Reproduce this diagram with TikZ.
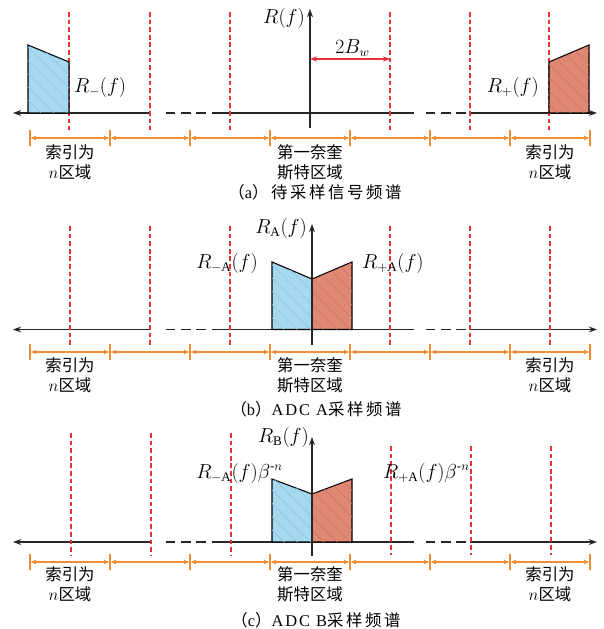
\documentclass[tikz,border=0pt]{standalone}
\usepackage{amsmath}
\usepackage{fontspec}
\setmainfont{Liberation Serif}
\newfontfamily\cjk{Noto Sans CJK SC}
\newfontfamily\capfont[LetterSpace=12]{Liberation Serif}
\newfontfamily\cjkcap[LetterSpace=16]{Noto Sans CJK SC}
\usetikzlibrary{arrows.meta, patterns.meta, calc}

\definecolor{zoneorange}{RGB}{240,142,52}
\definecolor{borderred}{RGB}{236,48,58}
\definecolor{bandblue}{RGB}{166,216,239}
\definecolor{hatchblue}{RGB}{138,198,228}
\definecolor{bandred}{RGB}{225,136,116}
\definecolor{hatchred}{RGB}{206,116,98}

\begin{document}
\begin{tikzpicture}[x=0.03cm, y=-0.03cm]
			% Define style
			\tikzset{
				axis/.style={draw=black!85, line width=0.9pt},
				gapline/.style={axis, dash pattern=on 8pt off 5pt},
				border/.style={draw=borderred, line width=0.9pt, dash pattern=on 4pt off 2.5pt},
				span/.style={draw=zoneorange, line width=0.9pt, {Latex[length=5pt,width=4pt]}-{Latex[length=5pt,width=4pt]}},
				bar/.style={draw=zoneorange, line width=0.9pt},
				zone/.style={font=\cjk\fontsize{14}{17}\selectfont, align=center, inner sep=0pt},
				caption/.style={font=\capfont\fontsize{14}{17}\selectfont, inner sep=0pt},
				lbl/.style={font=\fontsize{16}{18}\selectfont, inner sep=0pt},
				blueband/.style={draw=black, line width=0.9pt, fill=bandblue, postaction={pattern={Lines[angle=-45,distance=8pt,line width=0.5pt]}, pattern color=hatchblue}},
				redband/.style={draw=black, line width=0.9pt, fill=bandred, postaction={pattern={Lines[angle=-45,distance=8pt,line width=0.5pt]}, pattern color=hatchred}}
			}
			\useasboundingbox (0,0) rectangle (603,629);
			
			% Define frequency axes, zone borders and zone spans
			\foreach \p/\ya/\yo/\yz in {a/113/138/162, b/329.5/352/375, c/542/562/584} {
				\draw[axis, -{Stealth[length=7pt,width=5pt]}] (150,\ya) -- (13,\ya);
				\draw[gapline] (166,\ya) -- (215,\ya);
				\draw[axis] (215,\ya) -- (414,\ya);
				\draw[gapline] (426,\ya) -- (470,\ya);
				\draw[axis, -{Stealth[length=7pt,width=5pt]}] (470,\ya) -- (597,\ya);
				\foreach \i in {0,...,7} {
					\coordinate (\p\i) at (30+80*\i,\yo);
					\draw[bar] ($(\p\i)+(0,-8)$) -- ($(\p\i)+(0,8)$);
				}
				\foreach \i [count=\j] in {0,...,6}
					\draw[span] (\p\i) -- (\p\j);
				\node (\p left) [zone] at (70,\yz) {索引为\\$n$区域};
				\node (\p mid) [zone] at (310,\yz) {第一奈奎\\斯特区域};
				\node (\p right) [zone] at (550,\yz) {索引为\\$n$区域};
			}
			\foreach \x in {69,150,230,390,470,549}
				\draw[border] (\x,12) -- (\x,130);
			\foreach \x in {70,150,230,390,470,550}
				\draw[border] (\x,226) -- (\x,345);
			\foreach \x in {71,151,231}
				\draw[border] (\x,433) -- (\x,555);
			\foreach \x in {391,471,551}
				\draw[border] (\x,446) -- (\x,555);
			
			% Panel (a)
			\draw[blueband] (28,113) -- (28,45) -- (69,62) -- (69,113) -- cycle;
			\draw[redband] (549,113) -- (549,62) -- (589,45) -- (589,113) -- cycle;
			\draw[axis, -{Stealth[length=7pt,width=5pt]}] (310,128) -- (310,9);
			\node (ra) [lbl, anchor=east] at (305,18) {$R(f)$};
			\node (rminus) [lbl, anchor=west] at (74,87) {$R_{-}(f)$};
			\node (rplus) [lbl, anchor=east] at (539,87) {$R_{+}(f)$};
			\coordinate (bw0) at (310,59);
			\coordinate (bw1) at (390,59);
			\draw[draw=borderred, line width=0.9pt, {Stealth[length=6pt,width=4.5pt]}-{Stealth[length=6pt,width=4.5pt]}] (bw0) -- (bw1);
			\node (bw) [lbl, above=2pt] at ($(bw0)!0.53!(bw1)$) {$2B_{w}$};
			\node (capa) [caption] at (315,192) {{\cjkcap （}a{\cjkcap ）待采样信号频谱}};
			
			% Panel (b)
			\draw[blueband] (272,329.5) -- (272,262) -- (312,279) -- (312,329.5) -- cycle;
			\draw[redband] (312,329.5) -- (312,279) -- (352,262) -- (352,329.5) -- cycle;
			\draw[axis, -{Stealth[length=7pt,width=5pt]}] (312,345) -- (312,224);
			\node (rA) [lbl, anchor=east] at (307,228) {$R_{\mathrm{A}}(f)$};
			\node (rminusA) [lbl, anchor=east] at (258,263) {$R_{-\mathrm{A}}(f)$};
			\node (rplusA) [lbl, anchor=west] at (362,263) {$R_{+\mathrm{A}}(f)$};
			\node (capb) [caption] at (316,409) {{\cjkcap （}b{\cjkcap ）}ADC A{\cjkcap 采样频谱}};
			
			% Panel (c)
			\draw[blueband] (272,542) -- (272,479) -- (312,494) -- (312,542) -- cycle;
			\draw[redband] (312,542) -- (312,494) -- (352,479) -- (352,542) -- cycle;
			\draw[axis, -{Stealth[length=7pt,width=5pt]}] (312,556) -- (312,437);
			\node (rB) [lbl, anchor=east] at (309,437) {$R_{\mathrm{B}}(f)$};
			\node (rminusB) [lbl, anchor=east] at (283,473) {$R_{-\mathrm{A}}(f)\beta^{\text{-}n}$};
			\node (rplusB) [lbl, anchor=west] at (383,473) {$R_{+\mathrm{A}}(f)\beta^{\text{-}n}$};
			\node (capc) [caption] at (316,620) {{\cjkcap （}c{\cjkcap ）}ADC B{\cjkcap 采样频谱}};
		\end{tikzpicture}
\end{document}
